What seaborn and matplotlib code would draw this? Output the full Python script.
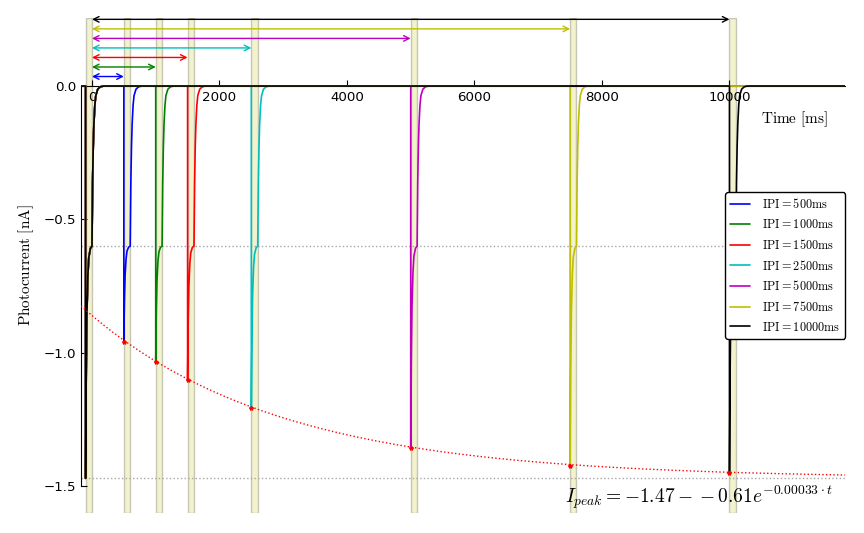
import numpy as np
import pandas as pd
import matplotlib
matplotlib.use("Agg")
import matplotlib.pyplot as plt
from matplotlib.lines import Line2D
import seaborn as sns

sns.set_style("ticks", {'axes.edgecolor': 'black', 'xtick.color': 'black',
                        'ytick.color': 'black', 'text.color': 'black',
                        'axes.labelcolor': 'black',
                        'xtick.direction': 'in', 'ytick.direction': 'in'})
plt.rcParams['font.family'] = ['DejaVu Sans']
plt.rcParams['mathtext.fontset'] = 'cm'

#Inter pulse intervals (ms) and peak current of the 2nd pulse (nA)
ipi = [500, 1000, 1500, 2500, 5000, 7500, 10000]
peak2 = [-0.96, -1.035, -1.10, -1.207, -1.357, -1.425, -1.451]
colours = ['b', 'g', 'r', 'c', 'm', 'y', 'k']
peak1 = -1.47			#peak of the first pulse
i_ss = -0.60			#steady state current during light
pulse = 100				#pulse length in ms
t_start, t_end = -172, 11812

#shape of the transients
on_dt = [0, 5, 10, 20, 35, 50, 75, 100]
on_frac = [1.0, 0.75, 0.55, 0.30, 0.13, 0.05, 0.01, 0.0]
off_dt = [0, 10, 20, 30, 45, 60, 90, 130, 180]
off_frac = [1.0, 0.60, 0.38, 0.24, 0.12, 0.06, 0.02, 0.005, 0.0]

#fit printed on the figure
fit_a, fit_b, fit_k = -1.47, -0.61, 0.00033

def pulse_trace(t_on, peak):
	t = [t_on, t_on]
	i = [0.0, peak]
	for dt, f in zip(on_dt[1:], on_frac[1:]):
		t.append(t_on + dt)
		i.append(i_ss + (peak - i_ss)*f)
	t_off = t_on + pulse
	for dt, f in zip(off_dt, off_frac):
		t.append(t_off + dt)
		i.append(i_ss*f)
	return t, i

labels = [r'$\mathrm{IPI = %dms}$' % d for d in ipi]
rows = []
for d, p, lab in zip(ipi, peak2, labels):
	t1, i1 = pulse_trace(-pulse, peak1)
	t2, i2 = pulse_trace(d, p)
	t = [t_start] + t1 + t2 + [t_end]
	i = [0.0] + i1 + i2 + [0.0]
	for a, b in zip(t, i):
		rows.append((a, b, lab))
df = pd.DataFrame(rows, columns=['time', 'current', 'IPI'])

fig = plt.figure(figsize=(8.64, 5.33), dpi=100)
ax = fig.add_axes([81/864, 1 - 513/533, 764/864, 495/533])

#light pulses
ax.axvspan(-pulse, 0, facecolor='y', edgecolor='k', alpha=0.2, zorder=0)
for d in ipi:
	ax.axvspan(d, d + pulse, facecolor='y', edgecolor='k', alpha=0.2, zorder=0)

ax.axhline(i_ss, color='0.65', ls=':', lw=1, zorder=1)
ax.axhline(peak1, color='0.65', ls=':', lw=1, zorder=1)

sns.lineplot(data=df, x='time', y='current', hue='IPI', hue_order=labels,
             palette=dict(zip(labels, colours)), sort=False, estimator=None,
             legend=False, lw=1.2, ax=ax, zorder=3)

#fit of the peaks
tf = np.linspace(t_start, t_end, 400)
fit = pd.DataFrame({'time': tf, 'current': fit_a - fit_b*np.exp(-fit_k*tf)})
sns.lineplot(data=fit, x='time', y='current', color='r', ls=':', lw=1, ax=ax, zorder=4)
ax.plot(ipi, peak2, 'r*', ms=3, zorder=5)

#interval arrows
for k, (d, c) in enumerate(zip(ipi, colours)):
	y = 0.25*(k + 1)/7
	ax.annotate('', xy=(0, y), xytext=(d, y), annotation_clip=False,
	            arrowprops=dict(arrowstyle='<->', color=c, lw=1, shrinkA=0, shrinkB=0))

ax.set_xlim(t_start, t_end)
ax.set_ylim(-1.6, 0.255)
ax.set_xticks([0, 2000, 4000, 6000, 8000, 10000])
ax.set_yticks([-1.5, -1.0, -0.5, 0.0])
ax.tick_params(labelsize=9.6, length=4)
ax.spines['top'].set_visible(False)
ax.spines['right'].set_visible(False)
ax.spines['bottom'].set_position(('data', 0))
ax.spines['left'].set_bounds(-1.5, 0)

ax.set_xlabel(r'$\mathrm{Time\ [ms]}$', fontsize=11)
ax.xaxis.set_label_coords(0.934, 0.815)
ax.set_ylabel(r'$\mathrm{Photocurrent\ [nA]}$', fontsize=11)
ax.yaxis.set_label_coords(-0.059, 0.5)

ax.text(0.634, 0.032, r'$I_{peak} = -1.47 - -0.61e^{-0.00033\cdot t}$',
        transform=ax.transAxes, fontsize=14, va='center')

handles = [Line2D([], [], color=c, lw=1.2) for c in colours]
leg = ax.legend(handles, labels, loc='center right', fontsize=8.8, borderaxespad=0,
                handlelength=1.6, handletextpad=1.0, labelspacing=0.55,
                fancybox=True, framealpha=1)
leg.get_frame().set_edgecolor('black')

fig.savefig('out.png', dpi=100)
